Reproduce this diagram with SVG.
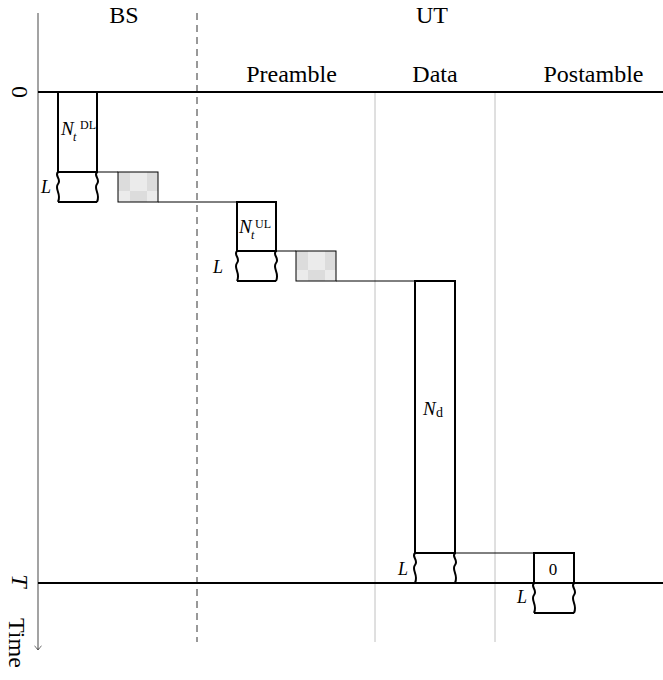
<svg xmlns="http://www.w3.org/2000/svg" width="663" height="680" viewBox="0 0 663 680">
<style>
text{font-family:"Liberation Serif","Times New Roman",serif;fill:#000}
.hd{font-size:24px;text-anchor:middle}
.box{fill:#fff;stroke:#000;stroke-width:2}
.wave{fill:none;stroke:#000;stroke-width:2}
.thin{stroke:#000;stroke-width:1;fill:none}
.grid{stroke:#c0c0c0;stroke-width:1}
.lab{font-size:18px;font-style:italic}
.m{font-size:19px;font-style:italic}
.sub{font-size:12px;font-style:italic}
.sup{font-size:12px}
</style>
<defs>
<marker id="arr" markerWidth="10" markerHeight="10" refX="5" refY="8" orient="0" markerUnits="userSpaceOnUse">
<path d="M1.5,4 Q4,6 5,8 Q6,6 8.5,4" fill="none" stroke="#555" stroke-width="1"/>
</marker>
<g id="chk">
<rect x="0" y="0" width="40" height="30" fill="#ebebeb"/>
<rect x="0" y="0" width="12" height="19" fill="#dcdcdc"/>
<rect x="29" y="0" width="11" height="19" fill="#dcdcdc"/>
<rect x="12" y="19" width="17" height="11" fill="#dcdcdc"/>
<rect x="0" y="0" width="40" height="30" fill="none" stroke="#000" stroke-width="1"/>
</g>
<path id="wv" d="M0,0 C-4,4 4,7 0,12 C-4,17 4,22 0,30"/>
</defs>
<g id="axes">
<line x1="38" y1="13" x2="38" y2="650" stroke="#666" stroke-width="1.2" marker-end="url(#arr)"/>
<line x1="197" y1="13" x2="197" y2="642" stroke="#333" stroke-width="1" stroke-dasharray="7,5"/>
<line class="grid" x1="375" y1="92" x2="375" y2="642"/>
<line class="grid" x1="495" y1="92" x2="495" y2="642"/>
<line x1="38" y1="92" x2="663" y2="92" stroke="#000" stroke-width="2"/>
<line x1="38" y1="583" x2="663" y2="583" stroke="#000" stroke-width="2"/>
</g>
<g id="headers">
<text class="hd" x="124" y="23">BS</text>
<text class="hd" x="432" y="23">UT</text>
<text class="hd" x="291.5" y="82">Preamble</text>
<text class="hd" x="435" y="82">Data</text>
<text class="hd" x="593.5" y="82">Postamble</text>
<text class="hd" transform="translate(12,92) rotate(90)">0</text>
<text class="hd" transform="translate(12,581) rotate(90)" font-style="italic">T</text>
<text font-size="24" transform="translate(9,618) rotate(90)">Time</text>
</g>
<g id="connectors">
<line class="thin" x1="97" y1="172" x2="118" y2="172"/>
<line class="thin" x1="158" y1="202" x2="237" y2="202"/>
<line class="thin" x1="276" y1="251" x2="296" y2="251"/>
<line class="thin" x1="336" y1="281" x2="415" y2="281"/>
<line class="thin" x1="455" y1="553" x2="534" y2="553"/>
</g>
<g id="dl">
<rect class="box" x="58" y="92" width="39" height="80"/>
<text class="m" x="61" y="135">N</text>
<text class="sub" x="73" y="141">t</text>
<text class="sup" x="80" y="129">DL</text>
<use href="#wv" class="wave" x="58" y="172"/>
<use href="#wv" class="wave" x="97" y="172"/>
<line class="wave" x1="58" y1="202" x2="97" y2="202"/>
<text class="lab" x="41" y="193">L</text>
<use href="#chk" x="118" y="172"/>
</g>
<g id="ul">
<rect class="box" x="237" y="202" width="39" height="49"/>
<text class="m" x="239" y="233">N</text>
<text class="sub" x="251" y="239">t</text>
<text class="sup" x="255" y="228">UL</text>
<use href="#wv" class="wave" x="237" y="251"/>
<use href="#wv" class="wave" x="276" y="251"/>
<line class="wave" x1="237" y1="281" x2="276" y2="281"/>
<text class="lab" x="213" y="273">L</text>
<use href="#chk" x="296" y="251"/>
</g>
<g id="data">
<rect class="box" x="415" y="281" width="40" height="272"/>
<text class="m" x="423" y="415">N</text>
<text x="436" y="417" font-family="Liberation Sans,Arial,sans-serif" font-size="14">d</text>
<use href="#wv" class="wave" x="415" y="553"/>
<use href="#wv" class="wave" x="455" y="553"/>
<text class="lab" x="398" y="575">L</text>
</g>
<g id="post">
<rect class="box" x="534" y="553" width="40" height="30"/>
<text x="553" y="575" font-size="17" text-anchor="middle">0</text>
<use href="#wv" class="wave" x="534" y="583"/>
<use href="#wv" class="wave" x="574" y="583"/>
<line class="wave" x1="534" y1="613" x2="574" y2="613"/>
<text class="lab" x="517" y="603">L</text>
</g>
</svg>
